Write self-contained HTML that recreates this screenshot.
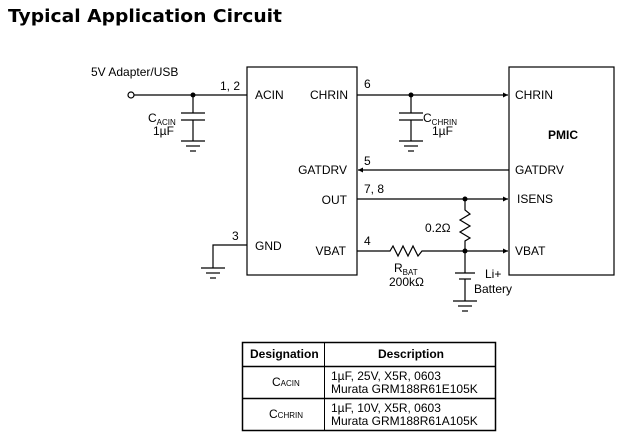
<!DOCTYPE html>
<html><head><meta charset="utf-8"><style>
body{margin:0;background:#fff;width:630px;height:437px;overflow:hidden}
svg{display:block}
text{font-family:"Liberation Sans",Arial,sans-serif;font-size:12px;fill:#000}
</style></head><body>
<svg width="630" height="437" viewBox="0 0 630 437" xmlns="http://www.w3.org/2000/svg">
<defs><marker id="a" markerWidth="6" markerHeight="6" refX="5" refY="3" orient="auto" markerUnits="userSpaceOnUse"><path d="M0,0.5 L5,3 L0,5.5z" fill="#000"/></marker></defs>
<text x="8" y="22" style="font-family:'DejaVu Sans',sans-serif;font-weight:bold;font-size:18px" textLength="274" lengthAdjust="spacingAndGlyphs">Typical Application Circuit</text>
<g stroke="#000" stroke-width="1.2" fill="none">
<rect x="247" y="67" width="110" height="208"/>
<rect x="509" y="67" width="105" height="208"/>
<circle cx="131" cy="95" r="3" fill="#fff"/>
<line x1="134" y1="95" x2="247" y2="95"/>
<line x1="193" y1="95" x2="193" y2="113"/><line x1="181" y1="113" x2="205" y2="113"/><line x1="181" y1="120" x2="205" y2="120"/><line x1="193" y1="120" x2="193" y2="141"/>
<line x1="181" y1="141" x2="205" y2="141"/><line x1="186" y1="146" x2="200" y2="146"/><line x1="190" y1="151" x2="196" y2="151"/>
<line x1="357" y1="95" x2="508" y2="95" marker-end="url(#a)"/>
<line x1="411" y1="95" x2="411" y2="113"/><line x1="399" y1="113" x2="423" y2="113"/><line x1="399" y1="120" x2="423" y2="120"/><line x1="411" y1="120" x2="411" y2="141"/>
<line x1="399" y1="141" x2="423" y2="141"/><line x1="404" y1="146" x2="418" y2="146"/><line x1="408" y1="151" x2="414" y2="151"/>
<line x1="509" y1="170" x2="358" y2="170" marker-end="url(#a)"/>
<line x1="357" y1="199" x2="508" y2="199" marker-end="url(#a)"/>
<polyline points="465,199 465,210 470,214 460,220 470,226 460,232 470,238 465,241 465,251"/>
<polyline points="357,251 390,251 393,246 398,256 403,246 408,256 413,246 418,256 422,251 508,251" marker-end="url(#a)"/>
<line x1="465" y1="251" x2="465" y2="273"/><line x1="455" y1="273" x2="475" y2="273"/><line x1="459" y1="279" x2="471" y2="279"/><line x1="465" y1="279" x2="465" y2="301"/>
<line x1="453" y1="301" x2="477" y2="301"/><line x1="458" y1="306" x2="472" y2="306"/><line x1="462" y1="311" x2="468" y2="311"/>
<polyline points="247,245 213,245 213,268"/>
<line x1="201" y1="268" x2="225" y2="268"/><line x1="206" y1="273" x2="220" y2="273"/><line x1="210" y1="278" x2="216" y2="278"/>
</g>
<g fill="#000"><circle cx="193" cy="95" r="2.5"/><circle cx="411" cy="95" r="2.5"/><circle cx="465" cy="199" r="2.5"/><circle cx="465" cy="251" r="2.5"/></g>
<text x="91" y="76">5V Adapter/USB</text>
<text x="220" y="90">1, 2</text>
<text x="255" y="99">ACIN</text>
<text x="348" y="99" text-anchor="end">CHRIN</text>
<text x="364" y="88">6</text>
<text x="148" y="122">C<tspan font-size="8" dy="3">ACIN</tspan></text>
<text x="153" y="135">1µF</text>
<text x="423" y="122">C<tspan font-size="8" dy="3">CHRIN</tspan></text>
<text x="432" y="135">1µF</text>
<text x="515" y="99">CHRIN</text>
<text x="548" y="139" font-weight="bold">PMIC</text>
<text x="364" y="165">5</text>
<text x="347" y="174" text-anchor="end">GATDRV</text>
<text x="515" y="174">GATDRV</text>
<text x="364" y="193">7, 8</text>
<text x="347" y="204" text-anchor="end">OUT</text>
<text x="517" y="203">ISENS</text>
<text x="425" y="232">0.2Ω</text>
<text x="232" y="240">3</text>
<text x="255" y="250">GND</text>
<text x="346" y="255" text-anchor="end">VBAT</text>
<text x="364" y="245">4</text>
<text x="515" y="255">VBAT</text>
<text x="394" y="272">R<tspan font-size="8" dy="3">BAT</tspan></text>
<text x="389" y="286">200kΩ</text>
<text x="485" y="278">Li+</text>
<text x="474" y="293">Battery</text>
<g stroke="#000" fill="none"><rect x="242.5" y="342.5" width="253" height="88" stroke-width="1.5"/>
<line x1="242" y1="366.5" x2="496" y2="366.5" stroke-width="1.5"/><line x1="242" y1="398.5" x2="496" y2="398.5" stroke-width="1.5"/>
<line x1="324.5" y1="342" x2="324.5" y2="431"/></g>
<text x="250" y="358" font-weight="bold">Designation</text>
<text x="378" y="358" font-weight="bold">Description</text>
<text x="272" y="386">C<tspan font-size="8">ACIN</tspan></text>
<text x="331" y="380">1µF, 25V, X5R, 0603</text>
<text x="331" y="393">Murata GRM188R61E105K</text>
<text x="269" y="418">C<tspan font-size="8">CHRIN</tspan></text>
<text x="331" y="412">1µF, 10V, X5R, 0603</text>
<text x="331" y="425">Murata GRM188R61A105K</text>
</svg>
</body></html>
